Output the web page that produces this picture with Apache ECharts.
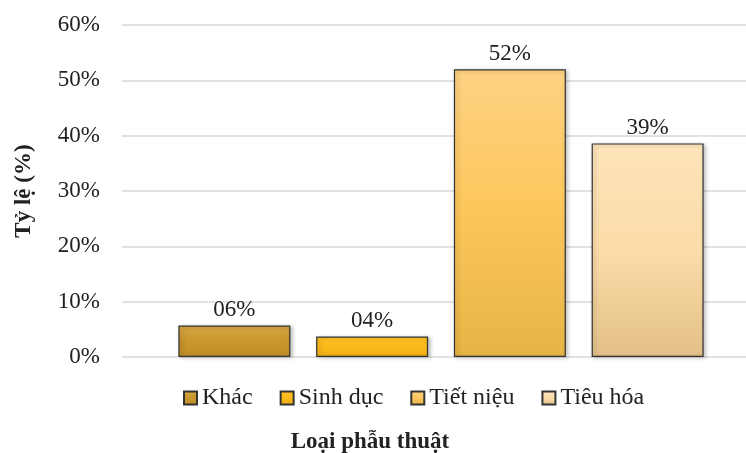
<!DOCTYPE html>
<html>
<head>
<meta charset="utf-8">
<script src="https://cdn.jsdelivr.net/npm/echarts@6/dist/echarts.min.js"></script>
<style>html,body{margin:0;padding:0;background:#fff}#c{width:746px;height:453px}</style>
</head>
<body>
<div id="c"></div>
<script>
var categories = ["Loại phẫu thuật"];
var seriesNames = ["Khác", "Sinh dục", "Tiết niệu", "Tiêu hóa"];
var seriesValues = [5.7, 3.7, 52.0, 38.6];
var yTicks = [0, 10, 20, 30, 40, 50, 60];
var gradients = [
  ["#D8A842", "#C8962E", "#C08C28"],
  ["#FFC224", "#FBBA1C", "#F2AE12"],
  ["#FDD283", "#FCC65A", "#E6B446"],
  ["#FDE4BA", "#FCDCA8", "#E3C088"]
];
function grad(c) {
  return new echarts.graphic.LinearGradient(0, 0, 0, 1, [
    {offset: 0, color: c[0]}, {offset: 0.5, color: c[1]}, {offset: 1, color: c[2]}
  ]);
}
var font = "'Liberation Serif','Times New Roman',serif";
var fs = 23;
var chart = echarts.init(document.getElementById('c'));
var series = seriesNames.map(function (n, i) {
  return {
    name: n,
    type: 'bar',
    data: [seriesValues[i]],
    barWidth: 112,
    barGap: '23%',
    itemStyle: {
      color: grad(gradients[i]),
      borderColor: '#333',
      borderWidth: 1.2,
      shadowColor: 'rgba(0,0,0,0.25)',
      shadowBlur: 4,
      shadowOffsetX: 2,
      shadowOffsetY: 1
    },
    label: {
      show: true,
      position: 'top',
      distance: 4,
      fontFamily: font,
      fontSize: fs,
      color: '#222',
      formatter: function (p) {
        var v = Math.round(p.value);
        return (v < 10 ? '0' + v : '' + v) + '%';
      }
    }
  };
});
chart.setOption({
  animation: false,
  grid: {left: 122, right: -14, top: 25, bottom: 96, outerBoundsMode: 'none', containLabel: false},
  legend: {
    data: seriesNames,
    icon: 'rect',
    left: 178,
    top: 381,
    itemWidth: 13,
    itemHeight: 13,
    itemGap: 27,
    textStyle: {fontFamily: font, fontSize: 24, color: '#222'}
  },
  xAxis: {
    type: 'category',
    data: categories,
    axisLine: {show: false},
    axisTick: {show: false},
    axisLabel: {show: false},
    name: 'Loại phẫu thuật',
    nameLocation: 'middle',
    nameGap: 74,
    nameTextStyle: {fontFamily: font, fontSize: fs, fontWeight: 'bold', color: '#222', padding: [0, 0, 0, -142]}
  },
  yAxis: {
    type: 'value',
    min: yTicks[0],
    max: yTicks[yTicks.length - 1],
    interval: 10,
    axisLine: {show: false},
    axisTick: {show: false},
    splitLine: {lineStyle: {color: '#d9d9d9', width: 1.5}},
    axisLabel: {
      margin: 22,
      fontFamily: font,
      fontSize: fs,
      color: '#222',
      formatter: function (v) { return v + '%'; }
    },
    name: 'Tỷ lệ (%)',
    nameLocation: 'middle',
    nameGap: 86,
    nameTextStyle: {fontFamily: font, fontSize: fs, fontWeight: 'bold', color: '#222'}
  },
  series: series
});
</script>
</body>
</html>
